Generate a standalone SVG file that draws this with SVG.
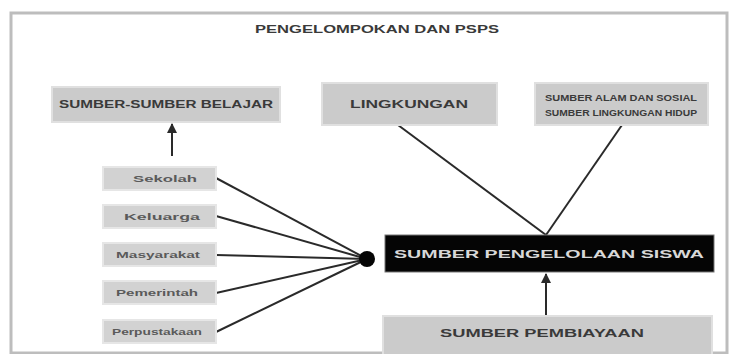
<svg xmlns="http://www.w3.org/2000/svg" width="730" height="354" viewBox="0 0 730 354">
<defs>
<style>
.frame{fill:#fff;stroke:#bdbdbd;stroke-width:3}
.box{fill:#cbcbcb;stroke:#e0e0e0;stroke-width:2}
.small{fill:#d2d2d2;stroke:#e6e6e6;stroke-width:2}
.dark{fill:#050505;stroke:#777;stroke-width:1}
.t{font-family:"Liberation Sans",Arial,sans-serif;font-weight:bold;fill:#3a3a3a;text-anchor:middle}
.ts{font-family:"Liberation Sans",Arial,sans-serif;font-weight:bold;fill:#5a5a5a;text-anchor:middle;font-size:9px}
.tw{font-family:"Liberation Sans",Arial,sans-serif;font-weight:bold;fill:#d8d8d8;text-anchor:middle}
.c{stroke:#2a2a2a;stroke-width:2;fill:none}
</style>
<marker id="ah" viewBox="0 0 10 10" refX="9" refY="5" markerWidth="5" markerHeight="5" orient="auto">
<path d="M0,0 L10,5 L0,10 z" fill="#2a2a2a"/>
</marker>
</defs>
<rect x="11" y="13" width="716" height="340" class="frame"/>
<text x="377" y="33" class="t" font-size="11" textLength="244" lengthAdjust="spacingAndGlyphs">PENGELOMPOKAN DAN PSPS</text>

<g id="connectors">
<line x1="172" y1="156" x2="172" y2="124" class="c" marker-end="url(#ah)"/>
<line x1="216" y1="178" x2="367" y2="259" class="c"/>
<line x1="216" y1="216" x2="367" y2="259" class="c"/>
<line x1="216" y1="255" x2="367" y2="259" class="c"/>
<line x1="216" y1="293" x2="367" y2="259" class="c"/>
<line x1="216" y1="332" x2="367" y2="259" class="c"/>
<line x1="398" y1="125" x2="546" y2="235" class="c"/>
<line x1="622" y1="125" x2="546" y2="235" class="c"/>
<line x1="546" y1="316" x2="546" y2="274" class="c" marker-end="url(#ah)"/>
<circle cx="367" cy="259" r="8" fill="#050505"/>
</g>

<g id="n-sumber-belajar">
<rect x="52" y="87" width="228" height="35" class="box"/>
<text x="166" y="108" class="t" font-size="10" textLength="214" lengthAdjust="spacingAndGlyphs">SUMBER-SUMBER BELAJAR</text>
</g>
<g id="n-lingkungan">
<rect x="322" y="83" width="175" height="42" class="box"/>
<text x="409" y="108" class="t" font-size="10" textLength="118" lengthAdjust="spacingAndGlyphs">LINGKUNGAN</text>
</g>
<g id="n-sumber-alam">
<rect x="535" y="83" width="173" height="42" class="box"/>
<text x="621" y="101" class="t" font-size="9.5" textLength="152" lengthAdjust="spacingAndGlyphs">SUMBER ALAM DAN SOSIAL</text>
<text x="621" y="116" class="t" font-size="9.5" textLength="152" lengthAdjust="spacingAndGlyphs">SUMBER LINGKUNGAN HIDUP</text>
</g>

<g id="n-sekolah">
<rect x="103" y="167" width="113" height="23" class="small"/>
<text x="165" y="182" class="ts" textLength="64" lengthAdjust="spacingAndGlyphs">Sekolah</text>
</g>
<g id="n-keluarga">
<rect x="103" y="205" width="113" height="23" class="small"/>
<text x="162" y="220" class="ts" textLength="76" lengthAdjust="spacingAndGlyphs">Keluarga</text>
</g>
<g id="n-masyarakat">
<rect x="103" y="243" width="113" height="23" class="small"/>
<text x="158" y="258" class="ts" textLength="84" lengthAdjust="spacingAndGlyphs">Masyarakat</text>
</g>
<g id="n-pemerintah">
<rect x="103" y="281" width="113" height="23" class="small"/>
<text x="157" y="296" class="ts" textLength="82" lengthAdjust="spacingAndGlyphs">Pemerintah</text>
</g>
<g id="n-perpustakaan">
<rect x="103" y="320" width="113" height="23" class="small"/>
<text x="157" y="335" class="ts" textLength="90" lengthAdjust="spacingAndGlyphs">Perpustakaan</text>
</g>

<g id="n-pengelolaan">
<rect x="385" y="235" width="329" height="37" class="dark"/>
<text x="549" y="258" class="tw" font-size="10" textLength="310" lengthAdjust="spacingAndGlyphs">SUMBER PENGELOLAAN SISWA</text>
</g>
<g id="n-pembiayaan">
<rect x="383" y="316" width="329" height="40" class="box"/>
<text x="542" y="337" class="t" font-size="10" textLength="204" lengthAdjust="spacingAndGlyphs">SUMBER PEMBIAYAAN</text>
</g>
</svg>
